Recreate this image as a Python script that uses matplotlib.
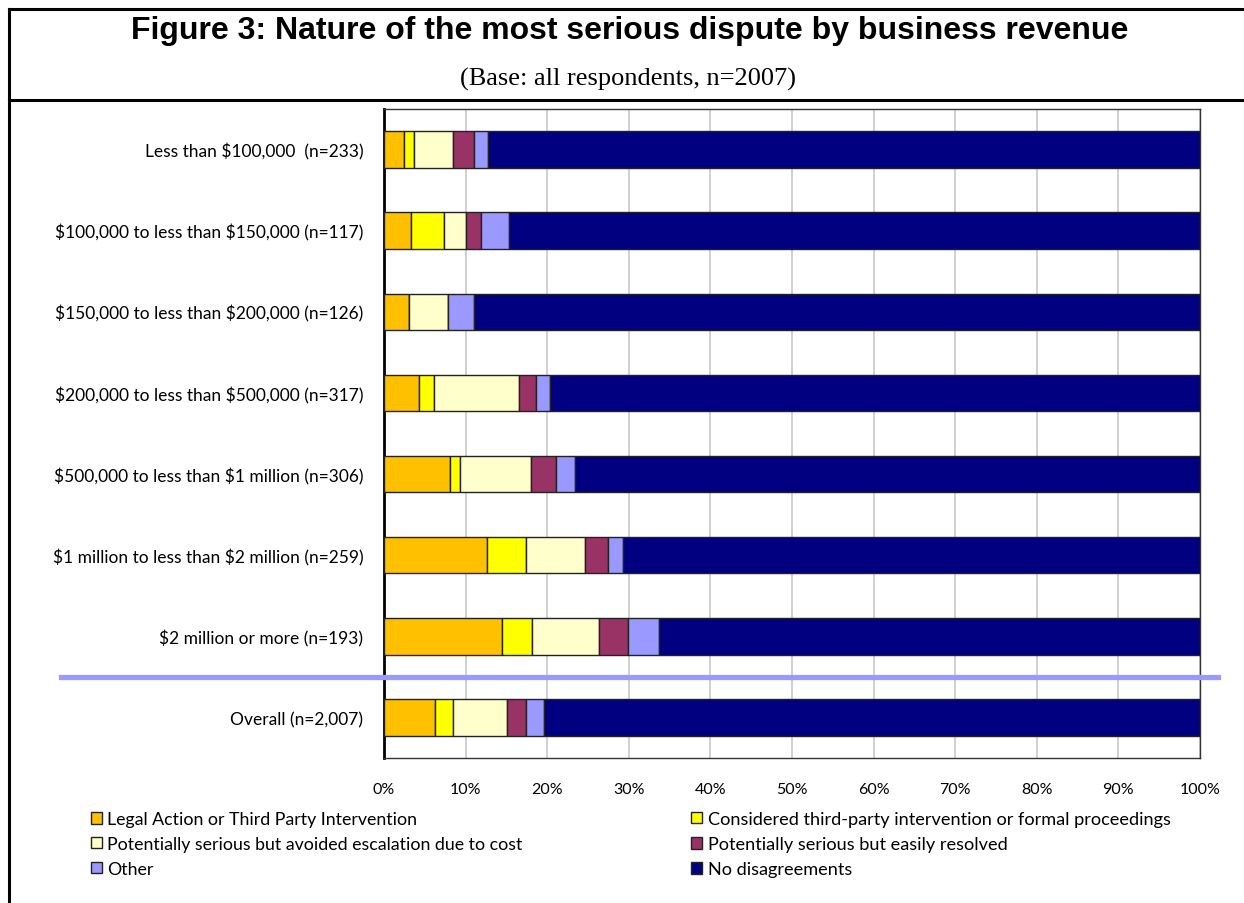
import numpy as np
import matplotlib
matplotlib.use("Agg")
import matplotlib.pyplot as plt
import matplotlib.transforms as mtransforms
from matplotlib.lines import Line2D
from matplotlib.patches import Patch

categories = [
    "Less than \\$100,000  (n=233)",
    "\\$100,000 to less than \\$150,000 (n=117)",
    "\\$150,000 to less than \\$200,000 (n=126)",
    "\\$200,000 to less than \\$500,000 (n=317)",
    "\\$500,000 to less than \\$1 million (n=306)",
    "\\$1 million to less than \\$2 million (n=259)",
    "\\$2 million or more (n=193)",
    "Overall (n=2,007)",
]

series_names = [
    "Legal Action or Third Party Intervention",
    "Considered third-party intervention or formal proceedings",
    "Potentially serious but avoided escalation due to cost",
    "Potentially serious but easily resolved",
    "Other",
    "No disagreements",
]

legal      = [2.5, 3.3, 3.1, 4.3, 8.1, 12.6, 14.4, 6.3]
considered = [1.2, 4.1, 0.0, 1.8, 1.2, 4.8, 3.7, 2.1]
avoided    = [4.7, 2.7, 4.7, 10.5, 8.7, 7.2, 8.2, 6.7]
resolved   = [2.6, 1.8, 0.0, 2.0, 3.1, 2.8, 3.6, 2.3]
other      = [1.8, 3.4, 3.2, 1.8, 2.3, 1.9, 3.8, 2.2]
no_disagree = [87.2, 84.7, 89.0, 79.6, 76.6, 70.7, 66.3, 80.4]

colors = ["#FFC000", "#FFFF00", "#FFFFCC", "#993366", "#9999FF", "#000080"]

xticks = np.arange(0, 101, 10)
xtick_labels = ["%d%%" % t for t in xticks]

label_font = ["Lato", "DejaVu Sans"]

fig = plt.figure(figsize=(12.44, 9.04), dpi=100)
ax = fig.add_axes([384 / 1244, 1 - 759 / 904, 816 / 1244, 649 / 904])

series = [legal, considered, avoided, resolved, other, no_disagree]
y = np.arange(len(categories))
left = np.zeros(len(categories))
for vals, name, col in zip(series, series_names, colors):
    vals = np.array(vals)
    ax.barh(y, vals, left=left, height=0.45, color=col, edgecolor="#222222",
            linewidth=1.0, label=name, zorder=3)
    left = left + vals

ax.set_xlim(0, 100)
ax.set_ylim(len(categories) - 0.5, -0.5)
ax.set_xticks(xticks)
ax.set_xticklabels(xtick_labels, fontsize=11.5, family=label_font)
ax.set_yticks(y)
ax.set_yticklabels(categories, fontsize=12.5, family=label_font)
ax.tick_params(axis="x", length=0, pad=17)
ax.tick_params(axis="y", length=0, pad=15)
ax.grid(axis="x", color="#C8C8C8", linewidth=1.2, zorder=0)

for s in ["top", "right", "bottom"]:
    ax.spines[s].set_color("#333333")
    ax.spines[s].set_linewidth(1.0)
ax.spines["left"].set_color("black")
ax.spines["left"].set_linewidth(2.0)

# separator above the overall row
trans = mtransforms.blended_transform_factory(ax.transAxes, ax.transData)
ax.plot([-0.396, 1.022], [6.5, 6.5], color="#9999FF", linewidth=3.8,
        transform=trans, clip_on=False, zorder=5)

# title box
W, H = 1244.0, 904.0
fig.add_artist(Line2D([9 / W, 9 / W], [0, 1 - 10 / H], color="black", lw=2.2))
fig.add_artist(Line2D([9 / W, 1], [1 - 10 / H, 1 - 10 / H], color="black", lw=2.2))
fig.add_artist(Line2D([9 / W, 1], [1 - 101 / H, 1 - 101 / H], color="black", lw=2.2))

fig.text(630 / W, 1 - 31 / H, "Figure 3: Nature of the most serious dispute by business revenue",
         ha="center", va="center", fontsize=23, fontweight="bold",
         family="Liberation Sans")
fig.text(628 / W, 1 - 79 / H, "(Base: all respondents, n=2007)",
         ha="center", va="center", fontsize=19, family="Liberation Serif")

# legend, two columns read row by row
handles = [Patch(facecolor=c, edgecolor="#222222", linewidth=1.0) for c in colors]
left_idx = [0, 2, 4]
right_idx = [1, 3, 5]
for idx, xpos, fs in [(left_idx, 91 / W, 12.8), (right_idx, 691 / W, 13.1)]:
    leg = fig.legend([handles[i] for i in idx], [series_names[i] for i in idx],
                     loc="upper left", bbox_to_anchor=(xpos, 1 - 812 / H),
                     frameon=False, prop={"family": label_font, "size": fs},
                     handlelength=0.62, handleheight=0.62, handletextpad=0.3,
                     labelspacing=0.5, borderpad=0, borderaxespad=0)

fig.savefig("out.png", dpi=100)
